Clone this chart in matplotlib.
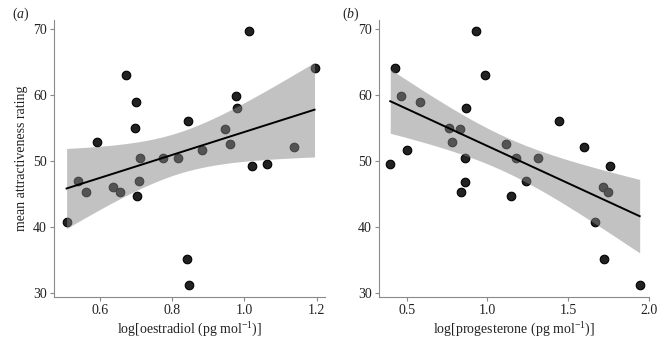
import numpy as np
import matplotlib
matplotlib.use("Agg")
import matplotlib.pyplot as plt

plt.rcParams['font.family'] = ['Liberation Serif', 'DejaVu Serif']
plt.rcParams['mathtext.fontset'] = 'custom'
plt.rcParams['mathtext.rm'] = 'Liberation Serif'
plt.rcParams['mathtext.it'] = 'Liberation Serif:italic'

# attractiveness ratings (shared by both panels, per participant)
oestradiol = [0.591, 0.671, 0.699, 0.697, 0.711, 0.774, 0.816, 0.844, 0.883,
              0.945, 0.961, 0.976, 0.980, 1.014, 1.022, 1.062, 1.138, 1.194,
              0.540, 0.561, 0.636, 0.656, 0.709, 0.702, 0.508, 0.842, 0.847]
rating_a = [52.9, 63.0, 59.0, 55.0, 50.4, 50.4, 50.4, 56.0, 51.7,
            54.85, 52.6, 59.9, 58.1, 69.65, 49.2, 49.6, 52.2, 64.1,
            47.0, 45.4, 46.1, 45.4, 47.0, 44.8, 40.75, 35.2, 31.3]

progesterone = [0.425, 0.466, 0.581, 0.398, 0.502, 0.763, 0.833, 0.781, 0.866,
                0.860, 0.929, 0.986, 1.119, 1.177, 1.316, 1.446, 1.597, 1.758,
                0.860, 0.837, 1.146, 1.243, 1.715, 1.750, 1.665, 1.726, 1.945]
rating_b = [64.1, 59.8, 59.0, 49.6, 51.7, 55.0, 54.9, 52.9, 58.1,
            50.4, 69.65, 63.0, 52.6, 50.4, 50.4, 56.0, 52.2, 49.2,
            46.9, 45.4, 44.8, 47.0, 46.1, 45.4, 40.75, 35.2, 31.3]

xlabels = ['log[oestradiol (pg mol$^{-1}$)]', 'log[progesterone (pg mol$^{-1}$)]']
ylabel = 'mean attractiveness rating'
panel_labels = ['($\\mathit{a}$)', '($\\mathit{b}$)']
xticks_a = [0.6, 0.8, 1.0, 1.2]
xticks_b = [0.5, 1.0, 1.5, 2.0]
yticks = [30, 40, 50, 60, 70]

T975 = 2.06  # t quantile, df = 25

fig = plt.figure(figsize=(6.66, 3.59), dpi=100)
ax1 = fig.add_axes([0.081, 0.1735, 0.407, 0.770])
ax2 = fig.add_axes([0.569, 0.1735, 0.406, 0.770])

def draw(ax, x, y, xticks, xlim, xlabel, plabel, plx):
    x = np.asarray(x); y = np.asarray(y)
    ax.scatter(x, y, s=38, facecolor='#222222', edgecolor='#000000',
               linewidth=0.8, zorder=2)
    b, a = np.polyfit(x, y, 1)
    xs = np.linspace(x.min(), x.max(), 200)
    yhat = a + b * xs
    n = len(x)
    resid = y - (a + b * x)
    s = np.sqrt(np.sum(resid ** 2) / (n - 2))
    se = s * np.sqrt(1 / n + (xs - x.mean()) ** 2 / np.sum((x - x.mean()) ** 2))
    ax.fill_between(xs, yhat - T975 * se, yhat + T975 * se, color='#878787',
                    alpha=0.5, linewidth=0, zorder=3)
    ax.plot(xs, yhat, color='black', lw=1.4, zorder=4)
    ax.set_xlim(*xlim)
    ax.set_ylim(29.5, 71.3)
    ax.set_xticks(xticks)
    ax.set_yticks(yticks)
    ax.set_xticklabels([f'{t:.1f}' for t in xticks])
    for sp in ['top', 'right']:
        ax.spines[sp].set_visible(False)
    for sp in ['left', 'bottom']:
        ax.spines[sp].set_color('#8a8a8a')
        ax.spines[sp].set_linewidth(0.8)
    ax.tick_params(colors='#8a8a8a', labelcolor='#222222', labelsize=10,
                   length=3, width=0.8, pad=2)
    ax.set_xlabel(xlabel, fontsize=10, color='#222222', labelpad=3)
    ax.text(plx, 1.02, plabel, transform=ax.transAxes, fontsize=10,
            color='#222222', ha='left', va='center')

draw(ax1, oestradiol, rating_a, xticks_a, (0.473, 1.223), xlabels[0], panel_labels[0], -0.155)
draw(ax2, progesterone, rating_b, xticks_b, (0.328, 2.005), xlabels[1], panel_labels[1], -0.138)
ax1.set_ylabel(ylabel, fontsize=10, color='#222222', labelpad=4)

fig.savefig('out.png', dpi=100)
